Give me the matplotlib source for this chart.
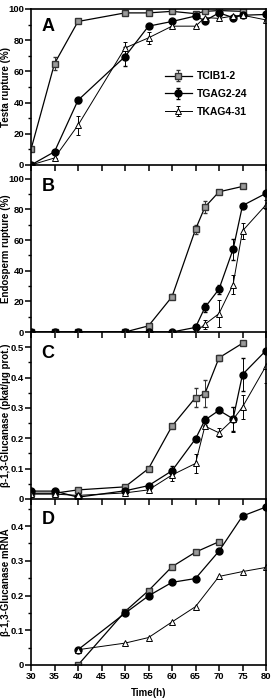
import matplotlib.pyplot as plt
import numpy as np

plt.rcParams['font.family'] = ['Liberation Sans', 'DejaVu Sans']
plt.rcParams['font.weight'] = 'bold'

# --- panel A: testa rupture (%)
a_t_sq = [30, 35, 40, 50, 55, 60, 65, 67, 70, 75]
a_sq = [10, 65, 92, 97.5, 97.5, 98.5, 97, 98.5, 99, 98.5]
a_sq_err = [0, 4, 0, 0, 0, 0, 0, 0, 0, 0]
a_t = [30, 35, 40, 50, 55, 60, 65, 67, 70, 73, 75, 80]
a_ci = [0, 8.5, 41.5, 69.5, 89, 92, 95.5, 92.5, 97.5, 94.5, 96, 96.5]
a_ci_err = [0, 0, 1.5, 6, 0, 0, 0, 0, 0, 0, 0, 0]
a_tr = [0, 4.5, 25.5, 75, 81.5, 89, 89, 94.5, 94, 95.5, 96, 93]
a_tr_err = [0, 0, 6, 4, 4, 0, 0, 0, 0, 0, 0, 0]

# --- panel B: endosperm rupture (%)
b_t_sq = [30, 35, 40, 50, 55, 60, 65, 67, 70, 75]
b_sq = [0, 0, 0, 0, 4, 23, 67, 81.5, 91.5, 95]
b_sq_err = [0, 0, 0, 0, 0, 1.5, 3, 4, 0, 0]
b_t = [30, 35, 40, 50, 55, 60, 65, 67, 70, 73, 75, 80]
b_ci = [0, 0, 0, 0, 0, 0, 3, 16, 28, 54, 82.5, 90.5]
b_ci_err = [0, 0, 0, 0, 0, 0, 0, 3, 3, 7, 0, 0]
b_tr = [0, 0, 0, 0, 0, 0, 0, 5, 12, 31, 66, 83]
b_tr_err = [0, 0, 0, 0, 0, 0, 0, 3, 9, 6, 5, 3]

# --- panel C: b-1,3-glucanase activity
c_t_sq = [30, 35, 40, 50, 55, 60, 65, 67, 70, 75]
c_sq = [0.019, 0.019, 0.03, 0.04, 0.10, 0.24, 0.334, 0.347, 0.465, 0.513]
c_sq_err = [0, 0, 0, 0, 0, 0, 0.03, 0.045, 0.01, 0]
c_t = [30, 35, 40, 50, 55, 60, 65, 67, 70, 73, 75, 80]
c_ci = [0.026, 0.026, 0.006, 0.027, 0.044, 0.093, 0.198, 0.26, 0.292, 0.264, 0.41, 0.489]
c_ci_err = [0, 0, 0, 0, 0, 0.015, 0, 0.015, 0, 0.04, 0.055, 0]
c_tr = [0.016, 0.016, 0.012, 0.02, 0.03, 0.079, 0.117, 0.24, 0.218, 0.262, 0.303, 0.438]
c_tr_err = [0, 0, 0, 0, 0, 0.02, 0.03, 0, 0.015, 0.04, 0.04, 0.055]

# --- panel D: b-1,3-glucanase mRNA
d_t_sq = [40, 50, 55, 60, 65, 70]
d_sq = [0.0, 0.154, 0.214, 0.283, 0.325, 0.355]
d_t = [40, 50, 55, 60, 65, 70, 75, 80]
d_ci = [0.044, 0.149, 0.199, 0.238, 0.249, 0.328, 0.429, 0.455]
d_tr = [0.044, 0.063, 0.079, 0.124, 0.168, 0.255, 0.269, 0.281]

labels = ["TCIB1-2", "TGAG2-24", "TKAG4-31"]
xticks = [30, 35, 40, 45, 50, 55, 60, 65, 70, 75, 80]

fig = plt.figure(figsize=(2.73, 7.0), dpi=100)
L, R = 31/273, 266/273
edges = [9, 165, 332, 499, 665]
axes = []
for i in range(4):
    top = 1 - edges[i]/700
    bot = 1 - edges[i+1]/700
    axes.append(fig.add_axes([L, bot, R-L, top-bot]))

sq = dict(marker='s', color='black', mfc='#9a9a9a', mec='#333333', ms=4.5, lw=0.9,
          capsize=1.5, elinewidth=0.7, ecolor='#333333')
ci = dict(marker='o', color='black', mfc='black', mec='black', ms=5, lw=0.9,
          capsize=1.5, elinewidth=0.7, ecolor='black')
tr = dict(marker='^', color='black', mfc='white', mec='black', ms=5, lw=0.7,
          capsize=1.5, elinewidth=0.7, ecolor='black', mew=0.7)

def draw(ax, tsq, ysq, esq, t, yci, eci, ytr, etr):
    ax.errorbar(tsq, ysq, yerr=esq, label=labels[0], **sq)
    ax.errorbar(t, yci, yerr=eci, label=labels[1], **ci)
    ax.errorbar(t, ytr, yerr=etr, label=labels[2], **tr)

draw(axes[0], a_t_sq, a_sq, a_sq_err, a_t, a_ci, a_ci_err, a_tr, a_tr_err)
draw(axes[1], b_t_sq, b_sq, b_sq_err, b_t, b_ci, b_ci_err, b_tr, b_tr_err)
draw(axes[2], c_t_sq, c_sq, c_sq_err, c_t, c_ci, c_ci_err, c_tr, c_tr_err)
noerr = ('capsize', 'elinewidth', 'ecolor')
axes[3].plot(d_t_sq, d_sq, **{k: v for k, v in sq.items() if k not in noerr})
axes[3].plot(d_t, d_ci, **{k: v for k, v in ci.items() if k not in noerr})
axes[3].plot(d_t, d_tr, **{k: v for k, v in tr.items() if k not in noerr})

ylims = [(0, 100), (0, 109), (0, 0.55), (0, 0.478)]
yticks = [[0, 20, 40, 60, 80, 100], [0, 20, 40, 60, 80, 100],
          [0, 0.1, 0.2, 0.3, 0.4, 0.5], [0, 0.1, 0.2, 0.3, 0.4]]
ytl = [["0", "20", "40", "60", "80", "100"], ["0", "20", "40", "60", "80", "100"],
       ["0", "0.1", "0.2", "0.3", "0.4", "0.5"], ["0", "0.1", "0.2", "0.3", "0.4"]]
minor = [10, 10, 0.05, 0.05]
ylabels = ["Testa rupture (%)", "Endosperm rupture (%)",
           "\u03b2-1,3-Glucanase (pkat/\u03bcg prot.)", "\u03b2-1,3-Glucanase mRNA"]
letters = ["A", "B", "C", "D"]

for i, ax in enumerate(axes):
    ax.set_xlim(30, 80)
    ax.set_ylim(*ylims[i])
    ax.set_xticks(xticks)
    ax.set_yticks(yticks[i])
    ax.set_yticklabels(ytl[i])
    ax.set_yticks(np.arange(minor[i], ylims[i][1], 2*minor[i]), minor=True)
    ax.tick_params(direction='out', length=4, width=1.1, labelsize=6.8, pad=1)
    ax.tick_params(which='minor', direction='out', length=2.5, width=1.0)
    if i < 3:
        ax.tick_params(axis='x', labelbottom=False)
    for s in ax.spines.values():
        s.set_linewidth(1.2)
    if i > 0:
        ax.spines['top'].set_visible(False)
    ax.set_ylabel(ylabels[i], fontsize=7, fontweight='bold')
    ax.yaxis.set_label_coords(-0.085, 0.5)
    ax.text(0.045, 0.94 if i == 0 else 0.925, letters[i], transform=ax.transAxes,
            fontsize=13, fontweight='bold', va='top', ha='left')
    ax.patch.set_alpha(0)

for lab in axes[3].get_xticklabels():
    lab.set_fontweight('bold')
for ax in axes:
    for lab in ax.get_yticklabels():
        lab.set_fontweight('bold')

axes[3].set_xlabel("Time(h)", fontsize=7, fontweight='bold', labelpad=5)

h, l = axes[0].get_legend_handles_labels()
leg = axes[0].legend(h, l, loc='center left', bbox_to_anchor=(0.53, 0.455), frameon=False,
                     handlelength=2.6, handletextpad=0.5, labelspacing=0.75,
                     prop={'weight': 'bold', 'size': 7.5})

fig.savefig("out.png", dpi=100)
